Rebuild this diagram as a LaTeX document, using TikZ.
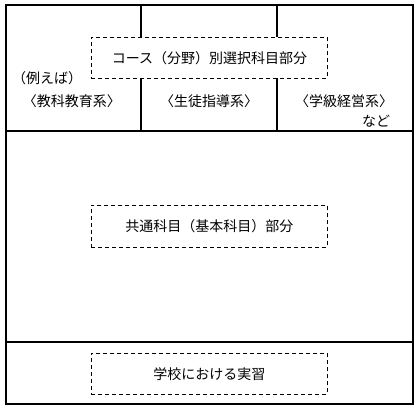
\documentclass[tikz,border=0pt]{standalone}
\usepackage{fontspec}
\newfontfamily\jp{Noto Sans CJK JP}
\begin{document}
\begin{tikzpicture}[x=1pt,y=-1pt,
  frame/.style={line width=2pt},
  dbox/.style={draw,dashed,line width=0.8pt,dash pattern=on 4pt off 3pt},
  lbl/.style={font=\jp\fontsize{14}{16}\selectfont,inner sep=0pt}]
\useasboundingbox (0,0) rectangle (418,408);
\draw[frame] (6,5) rectangle (413,404);
\draw[frame] (6,131) -- (413,131);
\draw[frame] (6,342) -- (413,342);
\draw[frame] (141,5) -- (141,131);
\draw[frame] (277,5) -- (277,131);
\node[dbox,fill=white,minimum width=236pt,minimum height=41pt,anchor=north west] (top) at (91,37) {};
\node[lbl] (topt) at (top.center) {コース（分野）別選択科目部分};
\node[dbox,minimum width=236pt,minimum height=42pt,anchor=north west] (mid) at (91,205) {};
\node[lbl] (midt) at (mid.center) {共通科目（基本科目）部分};
\node[dbox,minimum width=236pt,minimum height=41pt,anchor=north west] (bot) at (91,353) {};
\node[lbl] (bott) at (bot.center) {学校における実習};
\node[lbl,anchor=west] (ex) at (12,78) {（例えば）};
\node[lbl] (a) at (72,101) {〈教科教育系〉};
\node[lbl] (b) at (209,101) {〈生徒指導系〉};
\node[lbl] (c) at (344,101) {〈学級経営系〉};
\node[lbl] (d) at (376,121) {など};
\end{tikzpicture}
\end{document}
